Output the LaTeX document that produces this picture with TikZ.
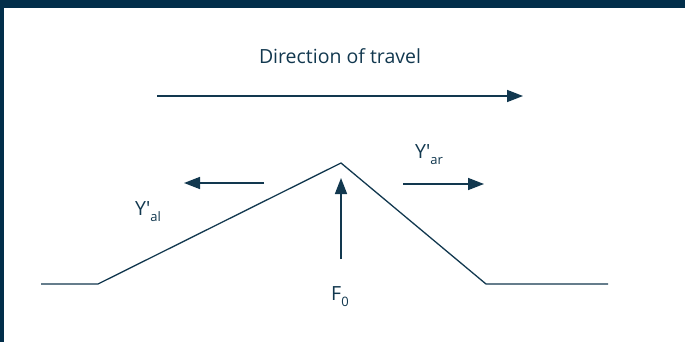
\documentclass[tikz,border=0pt]{standalone}
\usepackage{fontspec}
\setmainfont{Open Sans}
\newfontfamily\labelfont{Open Sans}
\usetikzlibrary{arrows.meta}
\definecolor{navy}{HTML}{022E4A}
\definecolor{ink}{HTML}{12384F}
\newcommand{\subtxt}[1]{\raisebox{-6pt}{\fontsize{13}{15}\selectfont #1}}
\newcommand{\primech}{{\char"0027}}
\begin{document}
\begin{tikzpicture}[x=1pt,y=-1pt,
  terrain/.style={draw=ink,line width=1.3pt,line join=miter},
  force/.style={draw=ink,line width=1.6pt,-{Triangle[length=16pt,width=12pt]}},
  lbl/.style={text=ink,font=\labelfont\fontsize{19.5}{23}\selectfont,inner sep=0pt}]
\useasboundingbox (0,0) rectangle (685,342);
\fill[navy] (0,0) rectangle (685,8);
\fill[navy] (0,0) rectangle (4,342);
% travel direction
\node[lbl,anchor=base] (dir) at (340,64) {Direction of travel};
\coordinate (t1) at (157,96);
\coordinate (t2) at (523,96);
\draw[force] (t1) -- (t2);
% terrain profile
\coordinate (p1) at (41,284);
\coordinate (p2) at (98,284);
\coordinate (pk) at (341,163);
\coordinate (p3) at (486,284);
\coordinate (p4) at (608,284);
\draw[terrain] (p1) -- (p2) -- (pk) -- (p3) -- (p4);
% forces
\coordinate (al1) at (264,183);
\coordinate (al2) at (184,183);
\draw[force] (al1) -- (al2);
\coordinate (ar1) at (403,184);
\coordinate (ar2) at (484,184);
\draw[force] (ar1) -- (ar2);
\coordinate (f1) at (341,259);
\coordinate (f2) at (341,178);
\draw[force] (f1) -- (f2);
% labels
\node[lbl,anchor=base west] (yar) at (415,158) {Y\primech\subtxt{ar}};
\node[lbl,anchor=base west] (yal) at (135,215) {Y\primech\subtxt{al}};
\node[lbl,anchor=base west] (f0) at (331,300) {F\subtxt{0}};
\end{tikzpicture}
\end{document}
